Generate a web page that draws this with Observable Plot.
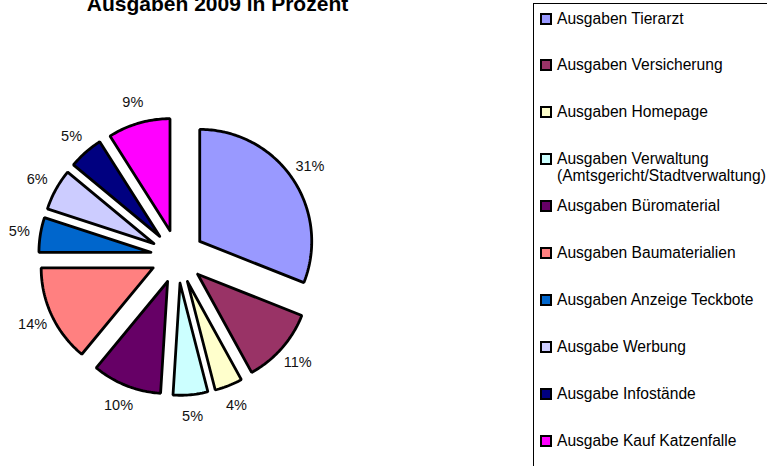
<!DOCTYPE html>
<html>
<head>
<meta charset="utf-8">
<script src="https://cdn.jsdelivr.net/npm/d3@7"></script>
<script src="https://cdn.jsdelivr.net/npm/@observablehq/plot@0.6"></script>
<style>
  html, body { margin: 0; padding: 0; background: #fff; }
  #wrap { position: relative; width: 767px; height: 466px; overflow: hidden; font-family: "Liberation Sans", Arial, sans-serif; }
  #title { position: absolute; left: 0; width: 435px; top: -7px; text-align: center; font-weight: bold; font-size: 21px; line-height: 21px; color: #000; white-space: nowrap; }
  #legend { position: absolute; left: 533px; top: 3px; width: 260px; height: 480px; border: 1px solid #000; box-sizing: border-box; background: #fff; }
  .item { position: absolute; left: 0; font-size: 15.6px; line-height: 17px; color: #000; white-space: nowrap; }
  .sw { position: absolute; left: 6px; top: 3px; width: 8px; height: 8px; border: 2px solid #000; }
  .lbl { position: absolute; left: 23px; top: 0; }
  #chart { position: absolute; left: 0; top: 0; }
</style>
</head>
<body>
<div id="wrap">
  <div id="chart"></div>
  <div id="title">Ausgaben 2009 in Prozent</div>
  <div id="legend"></div>
</div>
<script>
// Data
const categories = [
  "Ausgaben Tierarzt",
  "Ausgaben Versicherung",
  "Ausgaben Homepage",
  "Ausgaben Verwaltung (Amtsgericht/Stadtverwaltung)",
  "Ausgaben Büromaterial",
  "Ausgaben Baumaterialien",
  "Ausgaben Anzeige Teckbote",
  "Ausgabe Werbung",
  "Ausgabe Infostände",
  "Ausgabe Kauf Katzenfalle"
];
const legendLines = [
  ["Ausgaben Tierarzt"],
  ["Ausgaben Versicherung"],
  ["Ausgaben Homepage"],
  ["Ausgaben Verwaltung", "(Amtsgericht/Stadtverwaltung)"],
  ["Ausgaben Büromaterial"],
  ["Ausgaben Baumaterialien"],
  ["Ausgaben Anzeige Teckbote"],
  ["Ausgabe Werbung"],
  ["Ausgabe Infostände"],
  ["Ausgabe Kauf Katzenfalle"]
];
const percents = [31, 11, 4, 5, 10, 14, 5, 6, 5, 9];
const colors = ["#9999FF", "#993366", "#FFFFCC", "#CCFFFF", "#660066", "#FF8080", "#0066CC", "#CCCCFF", "#000080", "#FF00FF"];

// Layout
const W = 767, H = 466;
const cx = 177, cy = 256, R = 112;   // pixels
const explode = 0.24;                 // fraction of radius
const labelR = 1.43;                  // label distance (radius units)

const pie = d3.pie().sort(null).value(d => d.value);
const arcs = pie(categories.map((name, i) => ({name, value: percents[i], i})));

const polyPts = [];
const labels = [];
arcs.forEach(a => {
  const mid = (a.startAngle + a.endAngle) / 2;
  const ox = explode * Math.sin(mid), oy = -explode * Math.cos(mid);
  const name = a.data.name;
  polyPts.push({name, x: ox, y: oy});
  const n = Math.max(8, Math.ceil((a.endAngle - a.startAngle) / (Math.PI / 180)));
  for (let k = 0; k <= n; k++) {
    const t = a.startAngle + (a.endAngle - a.startAngle) * k / n;
    polyPts.push({name, x: ox + Math.sin(t), y: oy - Math.cos(t)});
  }
  polyPts.push({name, x: ox, y: oy});
  labels.push({name, text: a.data.value + "%", x: labelR * Math.sin(mid), y: -labelR * Math.cos(mid)});
});

const plot = Plot.plot({
  width: W,
  height: H,
  margin: 0,
  x: {domain: [-cx / R, (W - cx) / R], range: [0, W], axis: null},
  y: {domain: [-cy / R, (H - cy) / R], range: [0, H], axis: null},
  color: {domain: categories, range: colors},
  style: {fontFamily: "'Liberation Sans', Arial, sans-serif", background: "transparent"},
  marks: [
    Plot.line(polyPts, {x: "x", y: "y", z: "name", fill: "name", stroke: "#000", strokeWidth: 2.8, strokeLinejoin: "miter", curve: "linear"}),
    Plot.text(labels, {x: "x", y: "y", text: "text", fontSize: 14.5, fill: "#111", textAnchor: "middle"})
  ]
});
document.getElementById("chart").appendChild(plot);

// Legend (HTML)
const legend = document.getElementById("legend");
const rowStep = 46.9, firstCenter = 18 - 4;
legendLines.forEach((lines, i) => {
  const item = document.createElement("div");
  item.className = "item";
  item.style.top = (firstCenter + rowStep * i - 8.5) + "px";
  const sw = document.createElement("div");
  sw.className = "sw";
  sw.style.background = colors[i];
  item.appendChild(sw);
  const lbl = document.createElement("div");
  lbl.className = "lbl";
  lbl.innerHTML = lines.join("<br>");
  item.appendChild(lbl);
  legend.appendChild(item);
});
</script>
</body>
</html>
